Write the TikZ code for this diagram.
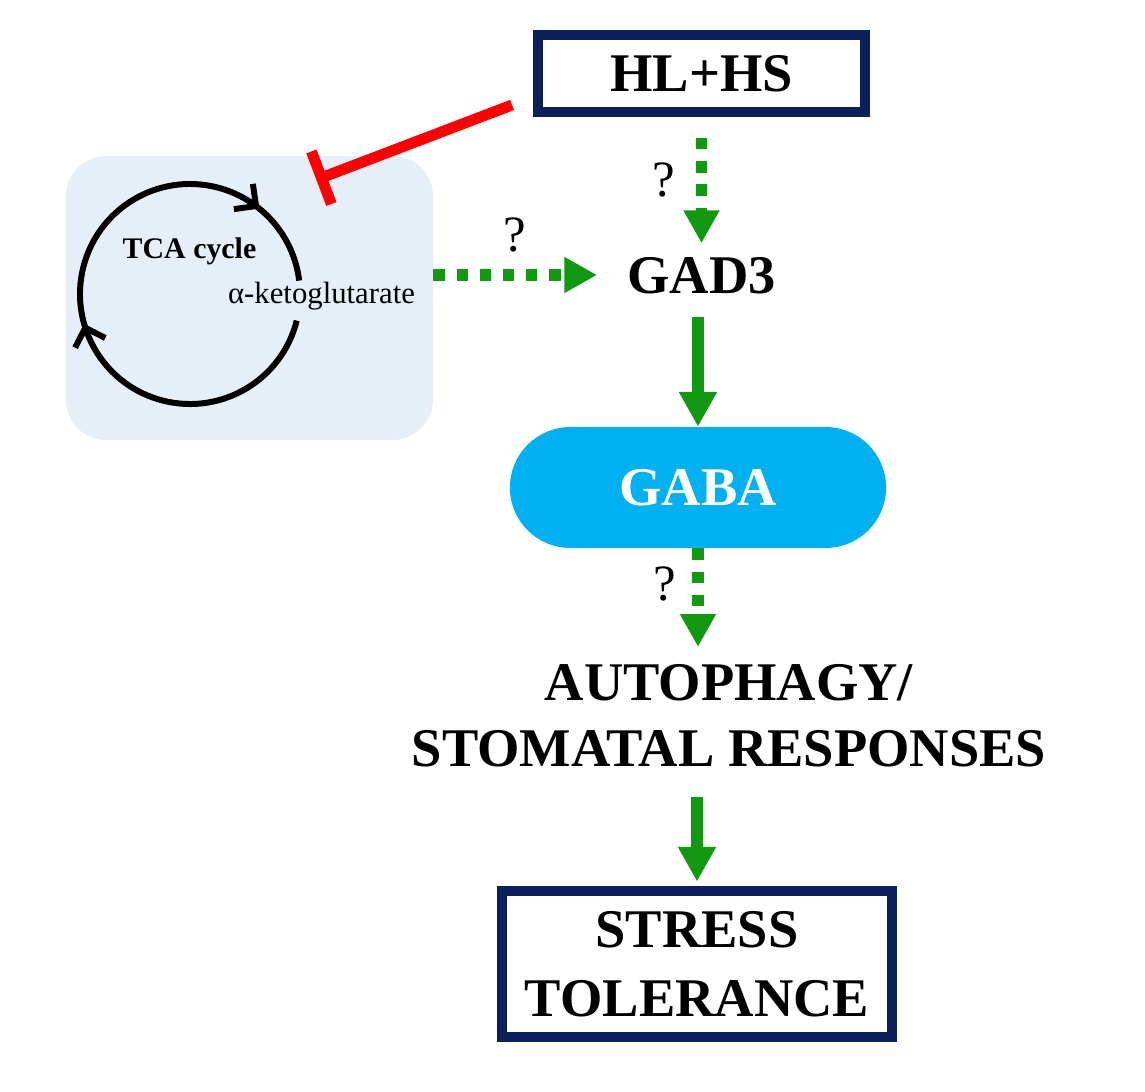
\documentclass[tikz,border=0pt]{standalone}
\usepackage{fontspec}
\setmainfont{Liberation Serif}
\usetikzlibrary{positioning,arrows.meta,calc,shapes.misc,decorations.markings}
\definecolor{cNavy}{HTML}{0B1F5B}
\definecolor{cGreen}{HTML}{129912}
\definecolor{cRed}{HTML}{FF0000}
\definecolor{cTca}{HTML}{E6EEF8}
\definecolor{cGaba}{HTML}{00B0F0}
\tikzset{
  dia/big/.style    ={font=\fontsize{31}{37.4}\selectfont\bfseries},
  dia/box/.style    ={dia/big, draw=cNavy, line width=5.7pt, fill=white,
                      inner sep=0pt, align=center},
  dia/pill/.style   ={dia/big, rounded rectangle, fill=cGaba, text=white,
                      minimum width=7.76cm, minimum height=2.42cm},
  dia/tcabox/.style ={fill=cTca, rounded corners=0.8cm,
                      minimum width=7.34cm, minimum height=5.68cm},
  dia/solid/.style  ={-{Triangle[length=19.8pt, width=20.4pt]},
                      line width=6.8pt, cGreen},
  dia/dotted/.style ={-{Triangle[length=18.7pt, width=19.3pt]},
                      line width=6.4pt, cGreen, dash pattern=on 6.4pt off 6.8pt},
  dia/inhibit/.style={-{Bar[width=32pt]}, line width=6.2pt, cRed},
  dia/query/.style  ={font=\fontsize{29}{34}\selectfont, inner sep=0pt, text=black},
  dia/cycle/.style  ={line width=3.4pt, black}
}
\newcommand{\tcachev}{\draw[dia/cycle] (-9pt,9pt) -- (0,0) -- (-9pt,-9pt);}

\begin{document}
\begin{tikzpicture}[x=0.02cm, y=-0.02cm]
  \useasboundingbox (0,0) rectangle (1145,1091);
  % main chain
  \node[dia/box, minimum width=6.54cm, minimum height=1.54cm] (hl) at (701.5,73.5) {HL+HS};
  \node[dia/big, inner xsep=17pt, inner ysep=7.4pt, text height=21pt,
        text depth=0pt] (gad3) at (701.5,275) {GAD3};
  \node[dia/pill] (gaba) at (698,487.5) {GABA};
  \node[dia/big, align=center, inner ysep=10pt] (auto) at (729,716)
       {AUTOPHAGY/\\STOMATAL RESPONSES};
  \node[dia/box, font=\fontsize{31}{39}\selectfont\bfseries,
        minimum width=7.8cm, minimum height=2.92cm] (stress) at (697,964)
       {STRESS\\TOLERANCE};

  % TCA panel
  \node[dia/tcabox] (tca) at (249.5,298) {};
  \draw[dia/cycle, postaction={decorate},
        decoration={markings,
          mark=at position 0.437 with {\tcachev},
          mark=at position 0.864 with {\tcachev}}]
    (190,294) ++(14:110) arc[start angle=14, end angle=353, radius=110];
  \node[font=\fontsize{17}{20}\selectfont\bfseries, anchor=base] (tcalbl)
       at (189.5,258) {TCA cycle};
  \node[font=\fontsize{17.5}{21}\selectfont, anchor=base, inner sep=1pt] (akg)
       at (321.5,303) {α-ketoglutarate};

  % connectors
  \draw[dia/inhibit] ($(hl.south west)+(-21,-12)$) -- ($(tca.north east)+(-117,24)$);
  \draw[dia/dotted, shorten <=12pt] (hl.south)
    -- node[dia/query, left=12pt] (q1) {?} (gad3.north);
  \draw[dia/dotted] (tca.east |- gad3.west)
    -- node[dia/query, above=9.5pt] (q2) {?} (gad3.west);
  \draw[dia/solid, shorten <=5.7pt] (gaba.north |- gad3.south) -- (gaba.north);
  \draw[dia/dotted] (gaba.south)
    -- node[dia/query, pos=0.36, left=9pt] (q3) {?} (gaba.south |- auto.north);
  \draw[dia/solid, shorten <=7pt, shorten >=2.5pt] (stress.north |- auto.south)
    -- (stress.north);
\end{tikzpicture}
\end{document}
